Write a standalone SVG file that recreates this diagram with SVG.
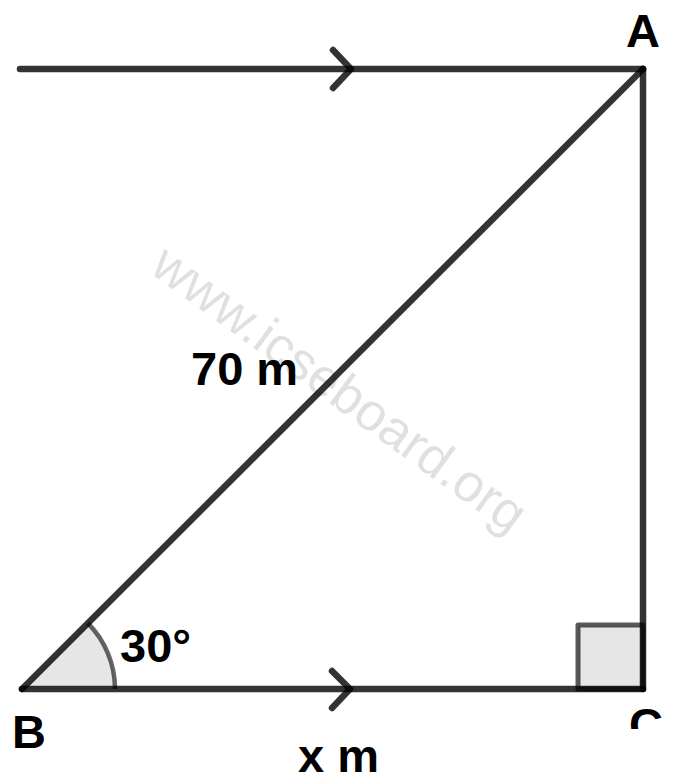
<svg xmlns="http://www.w3.org/2000/svg" width="674" height="784" viewBox="0 0 674 784">
<style>
.ln{stroke:#000;stroke-opacity:0.8;stroke-width:6.5;stroke-linecap:round;stroke-linejoin:round;fill:none}
.lbl{font-family:"Liberation Sans",Arial,sans-serif;font-weight:bold;font-size:47px;fill:#000}
.wm{font-family:"Liberation Sans",Arial,sans-serif;font-size:53px;fill:#000;fill-opacity:0.12}
</style>
<defs>
<clipPath id="cclip"><rect x="0" y="0" width="674" height="729"/></clipPath>
</defs>
<rect width="674" height="784" fill="#fff"/>
<g id="watermark">
<text class="wm" transform="translate(338,391) rotate(36)" x="0" y="15" text-anchor="middle">www.icseboard.org</text>
</g>
<g id="marks">
<path d="M115,689 A93,93 0 0 0 87.8,623.2 L22,689 Z" fill="#e6e6e6"/>
<path d="M115,689 A93,93 0 0 0 87.8,623.2" fill="none" stroke="#000" stroke-opacity="0.6" stroke-width="4.5"/>
<rect x="578" y="625" width="65" height="64" fill="#e6e6e6" stroke="#000" stroke-opacity="0.65" stroke-width="5" stroke-linejoin="round"/>
</g>
<g id="connectors">
<line class="ln" x1="20" y1="69" x2="643" y2="69"/>
<line class="ln" x1="643" y1="69" x2="643" y2="689"/>
<line class="ln" x1="22" y1="689" x2="643" y2="689"/>
<line class="ln" x1="22" y1="689" x2="643" y2="69"/>
<polyline class="ln" points="333,50 351,69 333,88"/>
<polyline class="ln" points="332,671 350,689 332,708"/>
</g>
<g id="node-A"><text class="lbl" x="643" y="47" text-anchor="middle">A</text></g>
<g id="node-B"><text class="lbl" x="12" y="748">B</text></g>
<g id="node-C" clip-path="url(#cclip)"><text class="lbl" x="629" y="741">C</text></g>
<g id="label-angle"><text class="lbl" x="120" y="662">30°</text></g>
<g id="label-hyp"><text class="lbl" x="191" y="385">70 m</text></g>
<g id="label-base"><text class="lbl" x="298" y="772">x m</text></g>
</svg>
